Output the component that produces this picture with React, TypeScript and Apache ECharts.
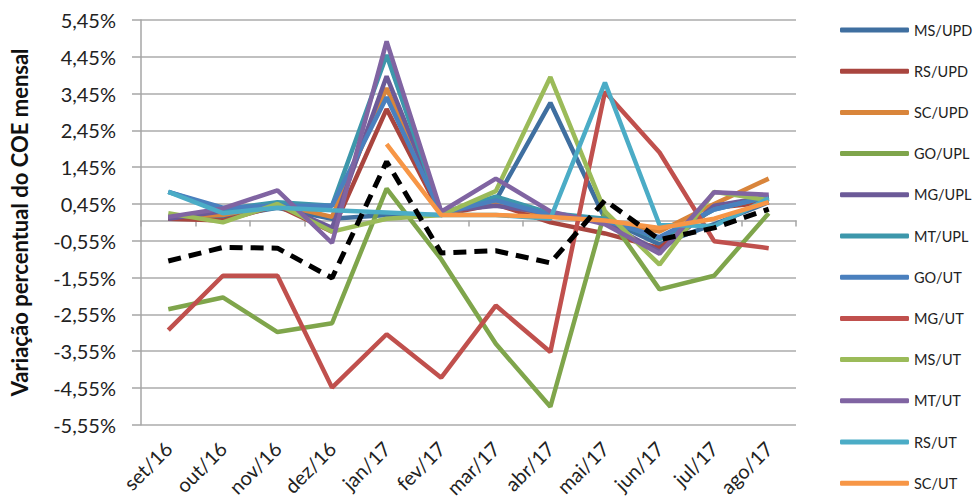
import { useEffect, useRef } from "react";
import * as echarts from "echarts";

const categories = [
  "set/16", "out/16", "nov/16", "dez/16", "jan/17", "fev/17",
  "mar/17", "abr/17", "mai/17", "jun/17", "jul/17", "ago/17",
];

const msUpd = [0.05, 0.1, 0.35, 0.05, 0.15, 0.15, 0.55, 3.2, 0.05, -0.65, -0.1, 0.5];
const rsUpd = [0.05, 0.0, 0.4, -0.3, 3.03, 0.15, 0.45, -0.05, -0.35, -0.75, 0.35, 0.5];
const scUpd = [0.1, 0.15, 0.45, 0.1, 3.6, 0.2, 0.5, 0.1, 0.0, -0.3, 0.45, 1.14];
const goUpl = [-2.41, -2.09, -3.03, -2.79, 0.87, -1.05, -3.35, -5.06, 0.25, -1.87, -1.5, 0.2];
const mgUpl = [0.05, 0.25, 0.45, -0.2, 3.92, 0.25, 0.4, 0.2, -0.05, -0.85, 0.4, 0.65];
const mtUpl = [0.78, 0.3, 0.5, 0.4, 4.5, 0.2, 0.65, 0.2, 0.05, -0.5, 0.3, 0.65];
const goUt = [0.78, 0.35, 0.4, 0.4, 3.35, 0.2, 0.55, 0.15, 0.0, -0.45, 0.3, 0.65];
const mgUt = [-2.98, -1.5, -1.5, -4.54, -3.09, -4.27, -2.31, -3.57, 3.5, 1.85, -0.56, -0.75];
const msUt = [0.2, -0.05, 0.45, -0.3, 0.05, 0.15, 0.8, 3.9, 0.25, -1.2, 0.78, 0.55];
const mtUt = [0.1, 0.33, 0.82, -0.61, 4.87, 0.24, 1.14, 0.25, -0.1, -0.9, 0.77, 0.7];
const rsUt = [0.78, 0.2, 0.35, 0.28, 0.22, 0.15, 0.15, 0.05, 3.75, -0.12, -0.15, 0.6];
const scUt = [null, null, null, null, 2.08, 0.15, 0.15, 0.1, 0.0, -0.2, 0.05, 0.5];
const media = [-1.1, -0.73, -0.75, -1.56, 1.6, -0.88, -0.82, -1.15, 0.55, -0.52, -0.2, 0.31];

const seriesNames = [
  "MS/UPD", "RS/UPD", "SC/UPD", "GO/UPL", "MG/UPL", "MT/UPL",
  "GO/UT", "MG/UT", "MS/UT", "MT/UT", "RS/UT", "SC/UT",
];
const seriesData = [msUpd, rsUpd, scUpd, goUpl, mgUpl, mtUpl, goUt, mgUt, msUt, mtUt, rsUt, scUt];
const colors = [
  "#3F6FA0", "#A9453F", "#D9853B", "#7FA54B", "#6C5A98", "#3D97AB",
  "#4A80BE", "#C0504D", "#9BBB59", "#8064A2", "#4BACC6", "#F79646",
];

const FONT = "Lato, 'Open Sans', sans-serif";

const App = () => {
  const chartRef = useRef<HTMLDivElement>(null);

  useEffect(() => {
    if (!chartRef.current) return;
    const chart = echarts.init(chartRef.current, null, { renderer: "svg" });

    const lines = seriesNames.map((name, i) => ({
      name,
      type: "line",
      data: seriesData[i],
      symbol: "none",
      connectNulls: false,
      lineStyle: { width: 4.5, color: colors[i] },
      itemStyle: { color: colors[i] },
    }));

    chart.setOption({
      animation: false,
      textStyle: { fontFamily: FONT },
      grid: { left: 137, right: 177, top: 20, bottom: 72 },
      legend: {
        data: seriesNames,
        orient: "vertical",
        left: 840,
        top: 22,
        padding: 0,
        icon: "roundRect",
        itemWidth: 69,
        itemHeight: 5,
        itemGap: 25.2,
        textStyle: { fontSize: 14.5, color: "#222", lineHeight: 16, fontFamily: FONT },
      },
      xAxis: [
        {
          type: "category",
          data: categories,
          position: "bottom",
          axisLine: { show: false, onZero: false },
          axisTick: { show: false },
          axisLabel: { rotate: 45, margin: 20, fontSize: 20, color: "#222", fontFamily: FONT },
        },
        {
          type: "category",
          data: categories,
          position: "bottom",
          axisLine: { show: true, onZero: true, lineStyle: { color: "#A6A6A6", width: 1.5 } },
          axisTick: { show: true, length: 6, lineStyle: { color: "#A6A6A6", width: 1.5 } },
          axisLabel: { show: false },
        },
      ],
      yAxis: {
        type: "value",
        min: -5.55,
        max: 5.45,
        interval: 1,
        name: "Variação percentual do COE mensal",
        nameLocation: "middle",
        nameRotate: 90,
        nameGap: 111,
        nameTextStyle: { fontSize: 22, fontWeight: "bold", color: "#111", fontFamily: FONT },
        axisLine: { show: true, lineStyle: { color: "#A6A6A6", width: 1.5 } },
        axisTick: { show: true, length: 9, lineStyle: { color: "#A6A6A6", width: 1.5 } },
        axisLabel: {
          margin: 25,
          fontSize: 20,
          color: "#222",
          fontFamily: FONT,
          formatter: (v: number) => v.toFixed(2).replace(".", ",") + "%",
        },
        splitLine: { show: true, lineStyle: { color: "#ABABAB", width: 1.5 } },
      },
      series: [
        ...lines,
        {
          name: "Média",
          type: "line",
          data: media,
          symbol: "none",
          lineStyle: { width: 5, color: "#000", type: [13, 8] },
          itemStyle: { color: "#000" },
        },
      ],
    });

    return () => {
      chart.dispose();
    };
  }, []);

  return (
    <div
      ref={chartRef}
      style={{ position: "absolute", left: 0, top: 0, width: 973, height: 500 }}
    />
  );
};

export default App;
